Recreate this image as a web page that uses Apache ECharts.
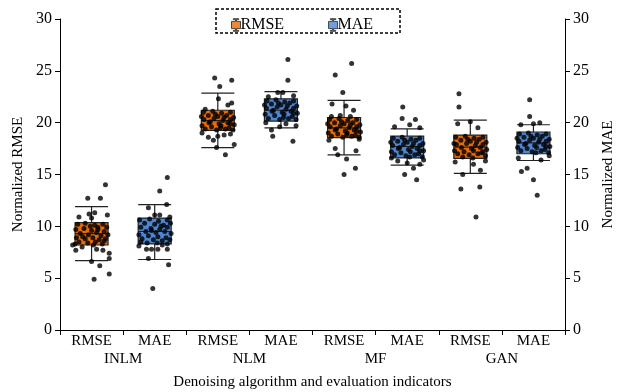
<!DOCTYPE html>
<html lang="en">
  <head>
    <meta charset="UTF-8" />
    <title>Denoising box plot</title>
    <script src="https://cdn.jsdelivr.net/npm/echarts@6/dist/echarts.min.js"></script>
    <style>
      body {
        margin: 0;
        overflow: hidden;
      }
      #main {
        width: 624px;
        height: 392px;
      }
    </style>
  </head>
  <body>
    <div id="main"></div>
    <script type="text/javascript">
      const indicators = ["RMSE", "MAE", "RMSE", "MAE", "RMSE", "MAE", "RMSE", "MAE"]
      const algorithms = ["INLM", "NLM", "MF", "GAN"]
      const yTicks = [0, 5, 10, 15, 20, 25, 30]

      // [lower whisker, Q1, median, Q3, upper whisker]
      const boxStats = [
        [6.7, 8.2, 9.3, 10.35, 11.9],
        [6.8, 8.3, 9.5, 10.8, 12.1],
        [17.6, 19.25, 20.2, 21.2, 22.85],
        [19.5, 20.15, 21.2, 22.3, 23.0],
        [16.9, 18.55, 19.5, 20.5, 22.15],
        [15.9, 16.6, 17.7, 18.7, 19.4],
        [15.1, 16.55, 17.65, 18.8, 20.25],
        [16.35, 17.0, 18.05, 19.1, 19.8],
      ]

      // sample points per box: [jitter within category, value]
      const inlmRmse = [
        [0.22, 14.0], [-0.06, 12.7], [0.14, 12.7], [-0.04, 11.2], [0.05, 11.3], [0.25, 11.1], [-0.2, 10.9], [0.0, 10.8],
        [0.0, 6.6], [0.13, 6.2], [0.28, 6.9], [0.28, 7.4], [0.04, 4.9], [0.28, 5.4], [-0.25, 7.7], [0.08, 7.8],
        [0.18, 7.7], [-0.15, 8.0], [-0.3, 8.2],
        [-0.22, 10.2], [-0.1, 10.3], [0.05, 10.1], [0.18, 10.2], [0.24, 9.9], [-0.25, 9.7], [-0.12, 9.8], [0.0, 9.6],
        [0.1, 9.9], [0.2, 9.5], [-0.18, 9.3], [-0.05, 9.2], [0.08, 9.4], [0.15, 9.1], [0.26, 9.2], [-0.24, 8.9],
        [-0.1, 8.8], [0.02, 8.9], [0.12, 8.7], [0.22, 8.8], [-0.2, 8.5], [-0.06, 8.4], [0.06, 8.5], [0.17, 8.3],
        [-0.14, 9.0], [0.1, 9.7], [-0.02, 10.0], [0.2, 8.6], [-0.26, 8.3], [0.03, 8.2],
      ]
      const inlmMae = [
        [0.2, 14.7], [0.08, 13.4], [0.19, 12.1], [-0.1, 11.8], [0.0, 11.1], [0.08, 11.1], [0.24, 10.9], [-0.1, 6.9],
        [0.22, 6.3], [-0.03, 4.0], [-0.13, 7.8], [-0.05, 7.8], [0.05, 7.8], [0.2, 7.8], [-0.25, 8.1], [0.12, 8.2],
        [-0.24, 10.6], [-0.08, 10.7], [0.06, 10.5], [0.2, 10.6], [-0.16, 10.3], [0.0, 10.2], [0.14, 10.1], [0.25, 10.3],
        [-0.22, 9.9], [-0.06, 9.8], [0.08, 9.7], [0.2, 9.9], [-0.14, 9.5], [0.02, 9.4], [0.16, 9.5], [0.26, 9.3],
        [-0.25, 9.2], [-0.1, 9.1], [0.05, 9.0], [0.18, 8.9], [-0.2, 8.8], [-0.02, 8.7], [0.12, 8.6], [0.24, 8.7],
        [-0.12, 8.4], [0.04, 8.4], [0.2, 8.3], [-0.22, 8.5], [0.1, 10.0], [-0.05, 9.6],
      ]
      const nlmRmse = [
        [-0.05, 24.3], [0.22, 24.1], [0.03, 23.5], [0.01, 22.3], [0.22, 21.9], [0.16, 21.7], [-0.2, 21.3], [-0.07, 18.3],
        [-0.02, 17.6], [0.26, 17.9], [0.12, 16.9], [-0.15, 18.6], [0.0, 18.7], [0.1, 18.8], [-0.25, 19.0], [0.2, 18.9],
        [-0.23, 21.0], [-0.08, 21.1], [0.06, 20.9], [0.2, 21.0], [-0.15, 20.7], [0.0, 20.6], [0.14, 20.7], [0.25, 20.5],
        [-0.22, 20.3], [-0.06, 20.4], [0.08, 20.2], [0.2, 20.3], [-0.14, 20.0], [0.02, 19.9], [0.16, 20.0], [0.26, 19.8],
        [-0.25, 19.7], [-0.1, 19.6], [0.05, 19.7], [0.18, 19.5], [-0.2, 19.4], [-0.02, 19.3], [0.12, 19.4], [0.24, 19.3],
        [-0.12, 20.1], [0.1, 20.5], [-0.04, 20.8], [0.2, 19.9], [-0.26, 20.6], [0.04, 19.5],
      ]
      const nlmMae = [
        [0.11, 26.1], [0.11, 24.1], [-0.05, 22.9], [0.03, 22.9], [-0.2, 22.5], [0.2, 22.6], [-0.13, 18.7], [-0.15, 19.3],
        [0.19, 18.2], [0.24, 19.7], [-0.02, 19.6], [0.08, 19.9], [-0.24, 20.0],
        [-0.22, 22.1], [-0.08, 22.2], [0.06, 22.0], [0.2, 22.1], [-0.15, 21.8], [0.0, 21.7], [0.14, 21.9], [0.25, 21.6],
        [-0.23, 21.4], [-0.06, 21.5], [0.08, 21.3], [0.2, 21.4], [-0.14, 21.1], [0.02, 21.0], [0.16, 21.1], [0.26, 20.9],
        [-0.25, 20.8], [-0.1, 20.7], [0.05, 20.8], [0.18, 20.6], [-0.2, 20.4], [-0.02, 20.3], [0.12, 20.4], [0.24, 20.3],
        [-0.12, 21.2], [0.1, 21.6], [-0.04, 21.9], [0.2, 20.9], [-0.26, 21.7], [0.04, 20.5],
      ]
      const mfRmse = [
        [0.12, 25.7], [-0.14, 24.6], [-0.02, 22.9], [-0.19, 21.8], [0.03, 21.6], [0.15, 21.2], [-0.2, 20.6], [-0.06, 20.7],
        [0.1, 20.6], [-0.14, 17.5], [-0.1, 16.9], [0.04, 16.5], [0.19, 17.3], [0.18, 15.6], [0.0, 15.0], [-0.24, 18.3],
        [0.24, 18.4],
        [-0.23, 20.3], [-0.08, 20.4], [0.06, 20.2], [0.2, 20.3], [-0.15, 20.0], [0.0, 19.9], [0.14, 20.0], [0.25, 19.8],
        [-0.22, 19.6], [-0.06, 19.7], [0.08, 19.5], [0.2, 19.6], [-0.14, 19.3], [0.02, 19.2], [0.16, 19.3], [0.26, 19.1],
        [-0.25, 19.0], [-0.1, 18.9], [0.05, 19.0], [0.18, 18.8], [-0.2, 18.7], [-0.02, 18.6], [0.12, 18.7], [0.24, 18.6],
        [-0.12, 19.4], [0.1, 19.8], [-0.04, 20.1], [0.2, 19.2], [-0.26, 19.9], [0.04, 18.8],
      ]
      const mfMae = [
        [-0.07, 21.5], [-0.08, 20.4], [0.13, 20.3], [-0.2, 19.6], [0.04, 19.8], [0.2, 19.5], [-0.04, 15.0], [0.15, 14.5],
        [0.1, 15.6], [0.2, 16.0], [-0.15, 16.3], [0.0, 16.1], [-0.25, 16.6], [0.26, 16.4],
        [-0.22, 18.5], [-0.08, 18.6], [0.06, 18.4], [0.2, 18.5], [-0.15, 18.2], [0.0, 18.1], [0.14, 18.3], [0.25, 18.0],
        [-0.23, 17.8], [-0.06, 17.9], [0.08, 17.7], [0.2, 17.8], [-0.14, 17.5], [0.02, 17.4], [0.16, 17.5], [0.26, 17.3],
        [-0.25, 17.2], [-0.1, 17.1], [0.05, 17.2], [0.18, 17.0], [-0.2, 16.9], [-0.02, 16.8], [0.12, 16.9], [0.24, 16.7],
        [-0.12, 17.6], [0.1, 18.0], [-0.04, 18.3], [0.2, 17.3], [-0.26, 18.1], [0.04, 16.7],
      ]
      const ganRmse = [
        [-0.18, 22.8], [-0.18, 21.5], [-0.2, 19.9], [0.0, 20.1], [0.12, 19.5], [-0.12, 15.0], [-0.15, 13.6], [0.15, 13.8],
        [0.09, 10.9], [0.16, 15.4], [-0.24, 16.2], [0.05, 16.0], [0.24, 16.3],
        [-0.23, 18.6], [-0.08, 18.7], [0.06, 18.5], [0.2, 18.6], [-0.15, 18.3], [0.0, 18.2], [0.14, 18.4], [0.25, 18.1],
        [-0.22, 17.9], [-0.06, 18.0], [0.08, 17.8], [0.2, 17.9], [-0.14, 17.6], [0.02, 17.5], [0.16, 17.6], [0.26, 17.4],
        [-0.25, 17.3], [-0.1, 17.2], [0.05, 17.3], [0.18, 17.1], [-0.2, 17.0], [-0.02, 16.9], [0.12, 17.0], [0.24, 16.8],
        [-0.12, 16.7], [0.1, 18.1], [-0.04, 18.4], [0.2, 17.2], [-0.26, 18.0], [0.04, 16.6],
      ]
      const ganMae = [
        [-0.06, 22.2], [-0.06, 20.6], [-0.2, 19.8], [0.0, 19.9], [0.1, 20.0], [-0.19, 15.3], [-0.1, 15.6], [0.0, 14.5],
        [0.06, 13.0], [-0.24, 16.6], [0.12, 16.4], [0.25, 16.8],
        [-0.22, 18.9], [-0.08, 19.0], [0.06, 18.8], [0.2, 18.9], [-0.15, 18.6], [0.0, 18.5], [0.14, 18.7], [0.25, 18.4],
        [-0.23, 18.2], [-0.06, 18.3], [0.08, 18.1], [0.2, 18.2], [-0.14, 17.9], [0.02, 17.8], [0.16, 17.9], [0.26, 17.7],
        [-0.25, 17.6], [-0.1, 17.5], [0.05, 17.6], [0.18, 17.4], [-0.2, 17.3], [-0.02, 17.2], [0.12, 17.3], [0.24, 17.1],
        [-0.12, 18.0], [0.1, 18.4], [-0.04, 18.7], [0.2, 17.7], [-0.26, 18.5], [0.04, 17.1],
      ]
      const samples = [inlmRmse, inlmMae, nlmRmse, nlmMae, mfRmse, mfMae, ganRmse, ganMae]

      const ORANGE = "#E46C0A"
      const BLUE = "#4F86D3"
      const FONT = "Liberation Serif"

      var chart = echarts.init(document.getElementById("main"))

      const scatterData = []
      samples.forEach((pts, i) => {
        pts.forEach(p => scatterData.push([i + 0.5 + p[0], p[1]]))
      })

      const boxIcon = "path://M3,0H9V1H6.5V3H11V11H6.5V13H9V14H3V13H5.5V11H1V3H5.5V1H3Z"

      const yAxisBase = {
        type: "value",
        min: yTicks[0],
        max: yTicks[yTicks.length - 1],
        interval: 5,
        splitLine: { show: false },
        axisLine: { show: true, lineStyle: { color: "#000", width: 1 } },
        axisTick: { show: true, length: 5, lineStyle: { color: "#000" } },
        axisLabel: { color: "#000", fontFamily: FONT, fontSize: 16, margin: 8 },
        nameLocation: "middle",
        nameTextStyle: { color: "#000", fontFamily: FONT, fontSize: 15 },
      }

      const option = {
        animation: false,
        grid: { left: 60, right: 59, top: 19, bottom: 62, outerBoundsMode: "none" },
        legend: {
          top: 12,
          left: 226,
          itemGap: 44,
          itemWidth: 9,
          itemHeight: 15,
          textStyle: { color: "#000", fontFamily: FONT, fontSize: 16, padding: [0, 0, 0, -5] },
          data: [
            { name: "RMSE", icon: boxIcon, itemStyle: { color: ORANGE, borderColor: "#222", borderWidth: 1 } },
            { name: "MAE", icon: boxIcon, itemStyle: { color: BLUE, borderColor: "#222", borderWidth: 1 } },
          ],
        },
        graphic: [
          {
            type: "rect",
            shape: { x: 216, y: 9, width: 184, height: 24 },
            style: { fill: "none", stroke: "#000", lineWidth: 1.5, lineDash: [3, 2] },
          },
        ],
        xAxis: [
          {
            type: "category",
            data: indicators,
            boundaryGap: true,
            axisLine: { lineStyle: { color: "#000", width: 1 } },
            axisTick: { show: true, interval: 0, length: 5, lineStyle: { color: "#000" } },
            axisLabel: { interval: 0, color: "#000", fontFamily: FONT, fontSize: 15, margin: 4 },
          },
          {
            type: "category",
            data: algorithms,
            position: "bottom",
            axisLine: { show: false },
            axisTick: { show: false },
            axisLabel: { interval: 0, color: "#000", fontFamily: FONT, fontSize: 15, margin: 22 },
            name: "Denoising algorithm and evaluation indicators",
            nameLocation: "middle",
            nameGap: 45,
            nameTextStyle: { color: "#000", fontFamily: FONT, fontSize: 15 },
          },
          {
            type: "value",
            min: 0,
            max: 8,
            show: false,
          },
        ],
        yAxis: [
          Object.assign({}, yAxisBase, { name: "Normalized RMSE", nameGap: 33, position: "left" }),
          Object.assign({}, yAxisBase, { name: "Normalized MAE", nameGap: 36, position: "right" }),
        ],
        series: [
          {
            name: "box",
            type: "boxplot",
            xAxisIndex: 0,
            yAxisIndex: 0,
            boxWidth: [33, 33],
            itemStyle: { borderColor: "#222", borderWidth: 1.2 },
            data: boxStats.map((d, i) => ({
              value: d,
              itemStyle: { color: i % 2 === 0 ? ORANGE : BLUE },
            })),
            z: 2,
          },
          {
            name: "RMSE",
            type: "scatter",
            data: [],
            itemStyle: { color: ORANGE },
          },
          {
            name: "MAE",
            type: "scatter",
            data: [],
            itemStyle: { color: BLUE },
          },
          {
            name: "points",
            type: "scatter",
            xAxisIndex: 2,
            yAxisIndex: 0,
            symbolSize: 5,
            itemStyle: { color: "#000" },
            data: scatterData,
            z: 5,
          },
        ],
      }

      chart.setOption(option)
    </script>
  </body>
</html>
